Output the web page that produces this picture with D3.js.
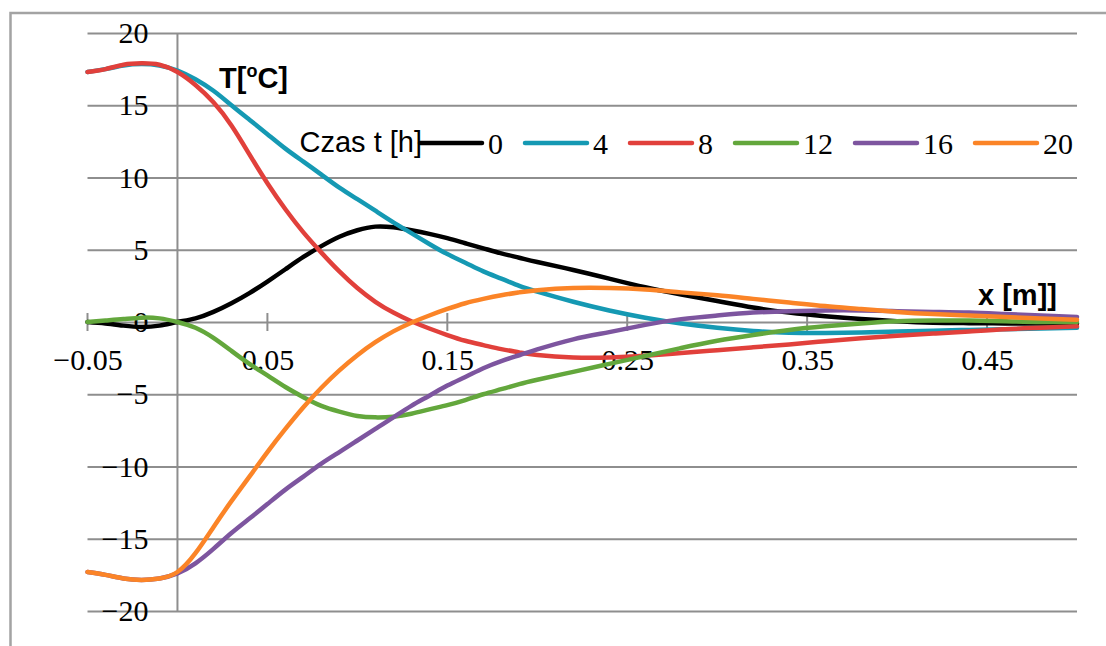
<!DOCTYPE html>
<html>
<head>
<meta charset="utf-8">
<script src="https://cdn.jsdelivr.net/npm/d3@7"></script>
<style>
  html, body { margin: 0; padding: 0; background: #fff; }
  svg { display: block; }
  svg text.serif { font-family: "Liberation Serif", "Times New Roman", Times, Tinos, "Nimbus Roman", "Nimbus Roman No9 L", "Noto Serif", "DejaVu Serif", FreeSerif, serif !important; }
  svg text.sans { font-family: "Liberation Sans", Arial, "DejaVu Sans", sans-serif; }
</style>
</head>
<body>
<svg id="chart" width="1106" height="646"></svg>
<script>
// ---- data ----
const xValues = [-0.05, -0.04, -0.03, -0.02, -0.01, 0.00, 0.01, 0.02, 0.03, 0.04,
                 0.05, 0.06, 0.07, 0.08, 0.09, 0.10, 0.11, 0.12, 0.13, 0.14,
                 0.15, 0.16, 0.17, 0.18, 0.19, 0.20, 0.22, 0.24, 0.26, 0.28,
                 0.30, 0.32, 0.34, 0.36, 0.38, 0.40, 0.42, 0.44, 0.46, 0.48, 0.50];

const t0  = [0, -0.1, -0.25, -0.35, -0.25, 0, 0.25, 0.7, 1.3, 2.0,
             2.8, 3.65, 4.5, 5.25, 5.9, 6.35, 6.6, 6.55, 6.35, 6.1,
             5.8, 5.45, 5.1, 4.75, 4.45, 4.15, 3.6, 3.0, 2.4, 1.9,
             1.45, 1.0, 0.65, 0.4, 0.2, 0.05, -0.05, -0.08, -0.1, -0.1, -0.1];
const t4  = [17.3, 17.5, 17.75, 17.85, 17.75, 17.4, 16.8, 16.0, 15.0, 14.0,
             13.0, 12.0, 11.1, 10.2, 9.3, 8.5, 7.7, 6.9, 6.15, 5.4,
             4.7, 4.1, 3.5, 3.0, 2.5, 2.1, 1.4, 0.8, 0.3, -0.1,
             -0.4, -0.62, -0.74, -0.76, -0.72, -0.66, -0.6, -0.55, -0.5, -0.45, -0.4];
const t8  = [17.3, 17.5, 17.8, 17.9, 17.8, 17.3, 16.4, 15.2, 13.6, 11.6,
             9.6, 7.8, 6.2, 4.8, 3.5, 2.35, 1.4, 0.65, 0.05, -0.45,
             -0.9, -1.3, -1.6, -1.88, -2.1, -2.28, -2.45, -2.45, -2.33, -2.15,
             -1.95, -1.75, -1.55, -1.33, -1.12, -0.95, -0.8, -0.65, -0.5, -0.4, -0.3];
const t12 = [0, 0.1, 0.2, 0.3, 0.25, 0, -0.4, -1.1, -2.0, -2.9,
             -3.7, -4.5, -5.2, -5.8, -6.2, -6.5, -6.6, -6.55, -6.35, -6.05,
             -5.75, -5.4, -5.0, -4.65, -4.3, -4.0, -3.45, -2.9, -2.35, -1.8,
             -1.3, -0.9, -0.55, -0.3, -0.1, 0.05, 0.1, 0.1, 0.05, 0.0, 0.0];
const t16 = [-17.3, -17.5, -17.75, -17.85, -17.75, -17.4, -16.7, -15.7, -14.6, -13.6,
             -12.6, -11.6, -10.7, -9.8, -9.0, -8.2, -7.4, -6.6, -5.8, -5.1,
             -4.4, -3.8, -3.2, -2.7, -2.3, -1.9, -1.2, -0.7, -0.2, 0.2,
             0.45, 0.65, 0.75, 0.8, 0.8, 0.75, 0.7, 0.65, 0.55, 0.45, 0.35];
const t20 = [-17.3, -17.5, -17.75, -17.85, -17.75, -17.3, -16.0, -14.2, -12.4, -10.7,
             -9.0, -7.4, -5.9, -4.55, -3.35, -2.3, -1.4, -0.65, -0.05, 0.45,
             0.9, 1.3, 1.6, 1.85, 2.05, 2.2, 2.35, 2.35, 2.25, 2.05,
             1.85, 1.6, 1.35, 1.1, 0.9, 0.7, 0.55, 0.45, 0.35, 0.25, 0.15];

const seriesNames = ["0", "4", "8", "12", "16", "20"];
const seriesValues = [t0, t4, t8, t12, t16, t20];
const seriesColors = ["#000000", "#1599b3", "#e1403b", "#63a73c", "#7d559f", "#fb8427"];

const xTickValues = [-0.05, 0.05, 0.15, 0.25, 0.35, 0.45];
const xTickLabels = ["\u22120.05", "0.05", "0.15", "0.25", "0.35", "0.45"];
const yTickValues = [-20, -15, -10, -5, 0, 5, 10, 15, 20];

const legendTitle = "Czas t [h]";
const yTitle = "T[";
const xTitle = "x [m]]";

// ---- layout ----
const svg = d3.select("#chart");
const plotLeft = 87.5, plotRight = 1077, plotTop = 33, plotBottom = 611;
const x = d3.scaleLinear().domain([-0.05, 0.5]).range([plotLeft, plotRight]);
const y = d3.scaleLinear().domain([-20, 20]).range([plotBottom, plotTop]);

const gridColor = "#8e8e8e";

// outer frame
svg.append("rect")
  .attr("x", 10.5).attr("y", 13).attr("width", 1200).attr("height", 1000)
  .attr("fill", "none").attr("stroke", "#a3a3a3").attr("stroke-width", 2.5);

// horizontal gridlines
const yGrid = svg.append("g").attr("transform", `translate(${plotLeft},0)`)
  .call(d3.axisLeft(y).tickValues(yTickValues).tickSize(-(plotRight - plotLeft)).tickFormat(""));
yGrid.select(".domain").remove();
yGrid.selectAll(".tick line").attr("stroke", gridColor).attr("stroke-width", 2);

// vertical axis line at x = 0
svg.append("line")
  .attr("x1", x(0)).attr("x2", x(0)).attr("y1", plotTop).attr("y2", plotBottom)
  .attr("stroke", gridColor).attr("stroke-width", 2);

// x tick cross marks
svg.append("g").selectAll("line").data(xTickValues).join("line")
  .attr("x1", d => x(d)).attr("x2", d => x(d))
  .attr("y1", y(0) - 9).attr("y2", y(0) + 9)
  .attr("stroke", gridColor).attr("stroke-width", 2);

// y axis labels
const yAxis = svg.append("g").attr("transform", `translate(${x(0)},0)`)
  .call(d3.axisLeft(y).tickValues(yTickValues).tickSize(0).tickPadding(29)
    .tickFormat(d => d < 0 ? "\u2212" + Math.abs(d) : String(d)));
yAxis.attr("font-family", null).attr("font-size", null);
yAxis.select(".domain").remove();
yAxis.selectAll("text").attr("class", "serif").style("font-size", "30px").attr("fill", "#000");

// x axis labels
const xAxis = svg.append("g").attr("transform", `translate(0,${y(0)})`)
  .call(d3.axisBottom(x).tickValues(xTickValues).tickSize(0).tickPadding(27)
    .tickFormat((d, i) => xTickLabels[i]));
xAxis.attr("font-family", null).attr("font-size", null);
xAxis.select(".domain").remove();
xAxis.selectAll("text").attr("class", "serif").style("font-size", "30px").attr("fill", "#000");

// lines
const line = d3.line()
  .x((d, i) => x(xValues[i]))
  .y(d => y(d))
  .curve(d3.curveNatural);

svg.append("g").selectAll("path").data(seriesValues).join("path")
  .attr("d", d => line(d))
  .attr("fill", "none")
  .attr("stroke", (d, i) => seriesColors[i])
  .attr("stroke-width", 4.5)
  .attr("stroke-linejoin", "round")
  .attr("stroke-linecap", "round");

// axis titles
const yt = svg.append("text").attr("class", "sans").attr("x", 219).attr("y", 88)
  .style("font-weight", "bold").style("font-size", "29px").attr("fill", "#000");
yt.append("tspan").text(yTitle);
yt.append("tspan").text("o").style("font-size", "18px").attr("dy", -11);
yt.append("tspan").text("C]").attr("dy", 11);

svg.append("text").attr("class", "sans").attr("x", 978).attr("y", 305)
  .style("font-weight", "bold").style("font-size", "29px").attr("fill", "#000")
  .text(xTitle);

// legend
const legY = 143;
svg.append("text").attr("class", "sans").attr("x", 422).attr("y", 152).attr("text-anchor", "end")
  .style("font-size", "29px").attr("fill", "#000")
  .text(legendTitle);

let lx = 420;
seriesNames.forEach((name, i) => {
  svg.append("line")
    .attr("x1", lx).attr("x2", lx + 62).attr("y1", legY).attr("y2", legY)
    .attr("stroke", seriesColors[i]).attr("stroke-width", 4.5).attr("stroke-linecap", "round");
  const t = svg.append("text").attr("class", "serif").attr("x", lx + 68).attr("y", 154)
    .style("font-size", "30px").attr("fill", "#000").text(name);
  lx += 68 + t.node().getComputedTextLength() + 22;
});
</script>
</body>
</html>
